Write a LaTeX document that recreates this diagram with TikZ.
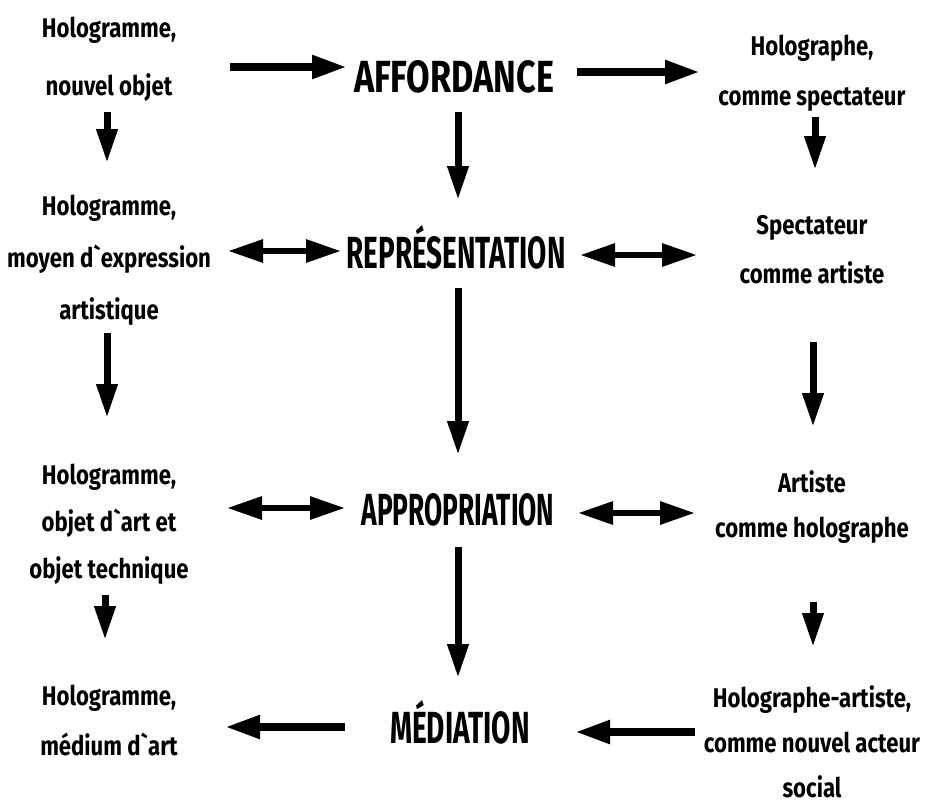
\documentclass[tikz,border=0pt]{standalone}
\usepackage{fontspec}
\setmainfont[FakeStretch=0.82,Ligatures=TeXOff]{Fira Sans}
\newfontfamily\corefont[FakeStretch=0.76]{Fira Sans}
\usetikzlibrary{arrows.meta}
\begin{document}
\begin{tikzpicture}[x=1pt,y=-1pt,
  lbl/.style={font=\fontsize{27}{#1}\selectfont\bfseries, align=center, inner sep=0pt},
  core/.style={font=\corefont\fontsize{45}{50}\selectfont\bfseries, inner sep=0pt, anchor=base},
  arr/.style={line width=8pt, -{Triangle[length=35pt,width=22pt]}},
  varr/.style={line width=7pt, -{Triangle[length=34pt,width=20pt]}},
  darr/.style={line width=6pt, {Triangle[length=35pt,width=22pt]}-{Triangle[length=35pt,width=22pt]}}]
\useasboundingbox (0,0) rectangle (925,806);

% left column
\node[lbl=58] (l1) at (109,59) {Hologramme,\\nouvel objet};
\node[lbl=52] (l2) at (109,260) {Hologramme,\\moyen d`expression\\artistique};
\node[lbl=47] (l3) at (109,524) {Hologramme,\\objet d`art et\\objet technique};
\node[lbl=50] (l4) at (109,720) {Hologramme,\\médium d`art};

% middle column
\node[core] (m1) at (454,92) {AFFORDANCE};
\node[core] (m2) at (456,268) {\scalebox{0.815}[1]{REPRÉSENTATION}};
\node[core] (m3) at (458,525) {\scalebox{0.77}[1]{APPROPRIATION}};
\node[core] (m4) at (460,743) {\scalebox{0.82}[1]{MÉDIATION}};

% right column
\node[lbl=50] (r1) at (812,73) {Holographe,\\comme spectateur};
\node[lbl=49] (r2) at (812,250) {Spectateur\\comme artiste};
\node[lbl=45] (r3) at (812,507) {Artiste\\comme holographe};
\node[lbl=45] (r4) at (812,742) {Holographe-artiste,\\comme nouvel acteur\\social};

% arrow end points
\coordinate (h1a) at (230,67);  \coordinate (h1b) at (347,67);
\coordinate (h2a) at (577,72);  \coordinate (h2b) at (700,72);
\coordinate (dl2a) at (228,251); \coordinate (dl2b) at (341,251);
\coordinate (dr2a) at (580,255); \coordinate (dr2b) at (697,255);
\coordinate (dl3a) at (227,508); \coordinate (dl3b) at (345,508);
\coordinate (dr3a) at (578,513); \coordinate (dr3b) at (695,513);
\coordinate (h4la) at (345,727); \coordinate (h4lb) at (225,727);
\coordinate (h4ra) at (695,732); \coordinate (h4rb) at (575,732);

\coordinate (vl1a) at (107,112); \coordinate (vl1b) at (107,163);
\coordinate (vm1a) at (458,112); \coordinate (vm1b) at (458,200);
\coordinate (vr1a) at (815,117); \coordinate (vr1b) at (815,170);
\coordinate (vl2a) at (107,333); \coordinate (vl2b) at (107,418);
\coordinate (vm2a) at (458,288); \coordinate (vm2b) at (458,455);
\coordinate (vr2a) at (813,342); \coordinate (vr2b) at (813,427);
\coordinate (vl3a) at (105,595); \coordinate (vl3b) at (105,640);
\coordinate (vm3a) at (458,547); \coordinate (vm3b) at (458,678);
\coordinate (vr3a) at (813,602); \coordinate (vr3b) at (813,647);

% horizontal arrows
\draw[arr] (h1a) -- (h1b);
\draw[arr] (h2a) -- (h2b);
\draw[darr] (dl2a) -- (dl2b);
\draw[darr] (dr2a) -- (dr2b);
\draw[darr] (dl3a) -- (dl3b);
\draw[darr] (dr3a) -- (dr3b);
\draw[arr] (h4la) -- (h4lb);
\draw[arr] (h4ra) -- (h4rb);

% vertical arrows
\draw[varr] (vl1a) -- (vl1b);
\draw[varr] (vm1a) -- (vm1b);
\draw[varr] (vr1a) -- (vr1b);
\draw[varr] (vl2a) -- (vl2b);
\draw[varr] (vm2a) -- (vm2b);
\draw[varr] (vr2a) -- (vr2b);
\draw[varr] (vl3a) -- (vl3b);
\draw[varr] (vm3a) -- (vm3b);
\draw[varr] (vr3a) -- (vr3b);
\end{tikzpicture}
\end{document}
